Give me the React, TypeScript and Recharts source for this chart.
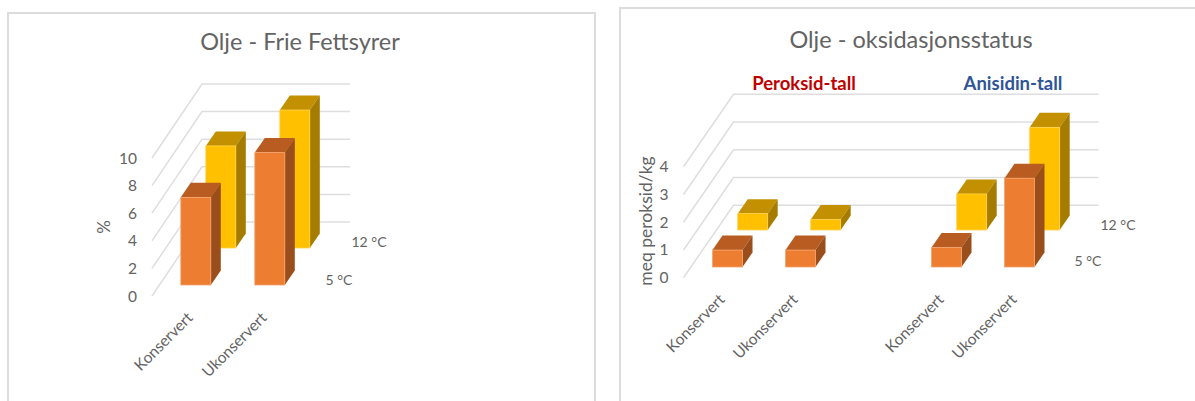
import { BarChart, Bar, XAxis, YAxis, CartesianGrid } from "recharts";

const leftCategories = ["Konservert", "Ukonservert"];
const leftCold = [6.35, 9.6]; // 5 °C
const leftWarm = [7.4, 10]; // 12 °C
const leftTicks = [0, 2, 4, 6, 8, 10];

const rightCategories = ["Konservert", "Ukonservert", "", "Konservert", "Ukonservert"];
const rightCold = [0.61, 0.61, null, 0.7, 3.2]; // 5 °C
const rightWarm = [0.59, 0.38, null, 1.3, 3.7]; // 12 °C
const rightTicks = [0, 1, 2, 3, 4];

const toRows = (cats: string[], cold: (number | null)[], warm: (number | null)[]) =>
  cats.map((name, i) => ({ name, cold: cold[i], warm: warm[i] }));

const TEXT = "#636363";
const GRID = "#dedede";
const FONT = "Lato, sans-serif";

const ORANGE = { front: "#ED7D31", top: "#B85C22", side: "#9A4E1B", edge: "#F4A46F" };
const YELLOW = { front: "#FFC000", top: "#C29000", side: "#A67C00", edge: "#FFD24F" };

// one bar: front face plus the top and side faces, pushed back along the floor
function Box(props: any) {
  const { x, y, width, height, color, shiftX, shiftY } = props;
  if (height == null || !width) return null;
  const fx = x + shiftX;
  const fy = y - shiftY;
  const dx = 10;
  const dy = 14.5;
  const r = fx + width;
  const b = fy + height;
  return (
    <g>
      <polygon points={`${fx},${fy} ${fx + dx},${fy - dy} ${r + dx},${fy - dy} ${r},${fy}`} fill={color.top} />
      <polygon points={`${r},${fy} ${r + dx},${fy - dy} ${r + dx},${b - dy} ${r},${b}`} fill={color.side} />
      <rect x={fx} y={fy} width={width} height={height} fill={color.front} stroke={color.edge} strokeWidth={0.8} />
    </g>
  );
}

// wall gridline: runs up the side wall, then along the back wall
const wallLine = (wallX: number, wallY: number) => (p: any) => (
  <polyline
    key={p.key ?? p.y1}
    points={`${p.x1},${p.y1} ${p.x1 + wallX},${p.y1 - wallY} ${p.x2 + wallX},${p.y1 - wallY}`}
    fill="none"
    stroke={GRID}
    strokeWidth={1.5}
  />
);

const axisFont = { fill: TEXT, fontSize: 15.5, fontFamily: FONT };
const catFont = { fill: TEXT, fontSize: 15.5, fontFamily: FONT };

function Note({ x, y, size = 14, fill = TEXT, weight, children, rotate }: any) {
  return (
    <text
      x={x}
      y={y}
      fontSize={size}
      fill={fill}
      fontWeight={weight}
      fontFamily={FONT}
      textAnchor="middle"
      dominantBaseline="central"
      transform={rotate ? `rotate(${rotate} ${x} ${y})` : undefined}
    >
      {children}
    </text>
  );
}

function LeftChart() {
  return (
    <BarChart
      width={600}
      height={401}
      data={toRows(leftCategories, leftCold, leftWarm)}
      margin={{ top: 158, right: 300, bottom: 25, left: 112 }}
      barSize={30}
      barGap={-30}
    >
      <CartesianGrid vertical={false} horizontal={wallLine(50, 74) as any} />
      <XAxis dataKey="name" interval={0} angle={-45} textAnchor="end" dx={-3} tick={catFont} tickLine={false} axisLine={false} tickMargin={9} height={80} />
      <YAxis width={40} domain={[0, 10]} ticks={leftTicks} tick={axisFont} tickLine={false} axisLine={false} tickMargin={15} tickSize={0} interval={0} />
      <Bar dataKey="warm" isAnimationActive={false} shape={(p: any) => <Box {...p} color={YELLOW} shiftX={31.8} shiftY={48} />} />
      <Bar dataKey="cold" isAnimationActive={false} shape={(p: any) => <Box {...p} color={ORANGE} shiftX={6.8} shiftY={11} />} />
      <Note x={300} y={41} size={23.5}>Olje - Frie Fettsyrer</Note>
      <Note x={103} y={227} size={17} rotate={-90}>%</Note>
      <Note x={339} y={279}>5 °C</Note>
      <Note x={369} y={241}>12 °C</Note>
    </BarChart>
  );
}

function RightChart() {
  return (
    <BarChart
      width={595}
      height={401}
      data={toRows(rightCategories, rightCold, rightWarm)}
      margin={{ top: 166.7, right: 146.5, bottom: 43.3, left: 43.5 }}
      barSize={30}
      barGap={-30}
    >
      <CartesianGrid vertical={false} horizontal={wallLine(50, 72.5) as any} />
      <XAxis dataKey="name" interval={0} angle={-45} textAnchor="end" dx={-2} tick={catFont} tickLine={false} axisLine={false} tickMargin={9} height={80} />
      <YAxis width={40} domain={[0, 4]} ticks={rightTicks} tick={axisFont} tickLine={false} axisLine={false} tickMargin={15} tickSize={0} interval={0} />
      <Bar dataKey="warm" isAnimationActive={false} shape={(p: any) => <Box {...p} color={YELLOW} shiftX={32.2} shiftY={47.7} />} />
      <Bar dataKey="cold" isAnimationActive={false} shape={(p: any) => <Box {...p} color={ORANGE} shiftX={7.0} shiftY={10.7} />} />
      <Note x={311} y={39} size={23.5}>Olje - oksidasjonsstatus</Note>
      <Note x={204} y={83} size={18.5} fill="#C00000" weight={700}>Peroksid-tall</Note>
      <Note x={413} y={83} size={18.5} fill="#2F5597" weight={700}>Anisidin-tall</Note>
      <Note x={45.5} y={221} size={17.5} rotate={-90}>meq peroksid/kg</Note>
      <Note x={488} y={260}>5 °C</Note>
      <Note x={518} y={224}>12 °C</Note>
    </BarChart>
  );
}

export default function App() {
  return (
    <div style={{ position: "absolute", left: 0, top: 0, width: 1195, height: 401, overflow: "hidden", background: "#fff" }}>
      <div style={{ position: "absolute", left: 7, top: 12, width: 585, height: 420, border: "2px solid #dcdcdc" }} />
      <div style={{ position: "absolute", left: 619, top: 7, width: 600, height: 420, border: "2px solid #dcdcdc" }} />
      <div style={{ position: "absolute", left: 0, top: 0 }}>
        <LeftChart />
      </div>
      <div style={{ position: "absolute", left: 600, top: 0 }}>
        <RightChart />
      </div>
    </div>
  );
}
